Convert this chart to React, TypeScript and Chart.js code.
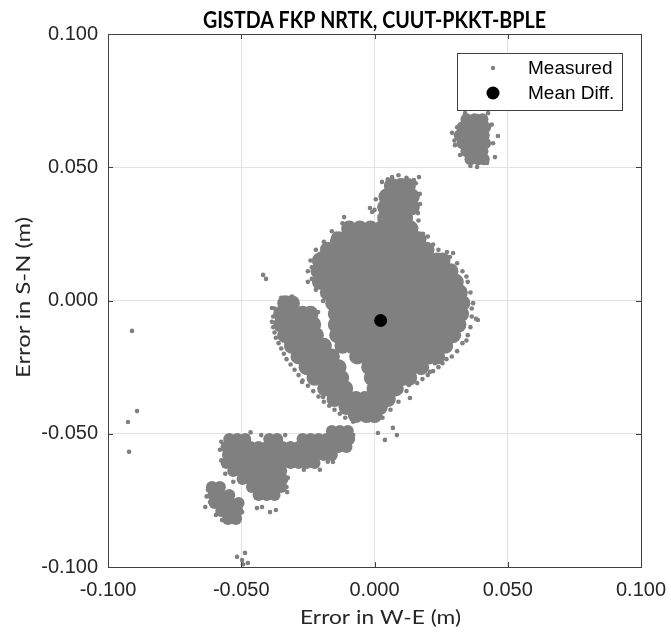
import { useEffect, useRef } from "react";
import { Chart, registerables } from "chart.js";

Chart.register(...registerables);

// ---- text ----
const TITLE = "GISTDA FKP NRTK, CUUT-PKKT-BPLE";
const X_TITLE = "Error in W-E (m)";
const Y_TITLE = "Error in S-N (m)";
const LEGEND_MEASURED = "Measured";
const LEGEND_MEAN = "Mean Diff.";

// ---- axes ----
const AXIS_MIN = -0.1;
const AXIS_MAX = 0.1;
const tickValues = [-0.1, -0.05, 0, 0.05, 0.1];
const tickLabels = ["-0.100", "-0.050", "0.000", "0.050", "0.100"];

// ---- data (metres) ----
// Saturated part of the main cloud: rows of [northing, eastings[]]
const mainCloudRows: [number, number[]][] = [
  [0.043, [0.0065, 0.01, 0.0125]],
  [0.039, [0.0045, 0.0085, 0.0125, 0.014]],
  [0.035, [0.004, 0.008, 0.012, 0.014]],
  [0.031, [0.004, 0.008, 0.0115]],
  [0.027, [-0.0095, -0.0055, -0.0015, 0.0025, 0.0065, 0.0105, 0.0135]],
  [0.023, [-0.0135, -0.0095, -0.0055, -0.0015, 0.0025, 0.0065, 0.0105, 0.0145, 0.0165]],
  [0.019, [-0.0175, -0.0135, -0.0095, -0.0055, -0.0015, 0.0025, 0.0065, 0.0105, 0.0145, 0.0185, 0.0195]],
  [0.015, [-0.0205, -0.0165, -0.0125, -0.0085, -0.0045, -0.0005, 0.0035, 0.0075, 0.0115, 0.0155, 0.0195, 0.0235, 0.0255]],
  [0.011, [-0.021, -0.017, -0.013, -0.009, -0.005, -0.001, 0.003, 0.007, 0.011, 0.015, 0.019, 0.023, 0.027, 0.0285]],
  [0.007, [-0.0205, -0.0165, -0.0125, -0.0085, -0.0045, -0.0005, 0.0035, 0.0075, 0.0115, 0.0155, 0.0195, 0.0235, 0.0275, 0.0305]],
  [0.003, [-0.0175, -0.0135, -0.0095, -0.0055, -0.0015, 0.0025, 0.0065, 0.0105, 0.0145, 0.0185, 0.0225, 0.0265, 0.0305, 0.032]],
  [-0.001, [-0.0155, -0.0115, -0.0075, -0.0035, 0.0005, 0.0045, 0.0085, 0.0125, 0.0165, 0.0205, 0.0245, 0.0285, 0.033]],
  [-0.005, [-0.0145, -0.0105, -0.0065, -0.0025, 0.0015, 0.0055, 0.0095, 0.0135, 0.0175, 0.0215, 0.0255, 0.0295, 0.0325]],
  [-0.009, [-0.0145, -0.0105, -0.0065, -0.0025, 0.0015, 0.0055, 0.0095, 0.0135, 0.0175, 0.0215, 0.0255, 0.0295, 0.0315]],
  [-0.013, [-0.014, -0.0105, -0.0065, -0.0025, 0.0015, 0.0055, 0.0095, 0.0135, 0.0175, 0.0215, 0.0255, 0.0295]],
  [-0.017, [-0.012, -0.0085, -0.0045, -0.0005, 0.0035, 0.0075, 0.0115, 0.0155, 0.0195, 0.0235, 0.0265]],
  [-0.021, [-0.0065, -0.0035, 0.0005, 0.0045, 0.0085, 0.0125, 0.0165, 0.0205, 0.0235]],
  [-0.025, [-0.002, 0.002, 0.006, 0.01, 0.014, 0.0175]],
  [-0.029, [-0.001, 0.003, 0.007, 0.011, 0.013]],
  [-0.033, [0.0, 0.004, 0.008]],
  [-0.037, [-0.001, 0.003, 0.005]],
  [-0.04, [0.0, 0.002]],
];

// Saturated part of the western lobe
const westLobeRows: [number, number[]][] = [
  [-0.001, [-0.0335, -0.031]],
  [-0.005, [-0.035, -0.031, -0.027, -0.024]],
  [-0.009, [-0.035, -0.031, -0.027, -0.023]],
  [-0.013, [-0.0335, -0.0295, -0.0255, -0.022]],
  [-0.017, [-0.031, -0.027, -0.023, -0.019]],
  [-0.021, [-0.0285, -0.0245, -0.0205, -0.016]],
  [-0.025, [-0.0255, -0.0215, -0.0175, -0.0135]],
  [-0.029, [-0.0225, -0.0185, -0.0145, -0.0125]],
  [-0.033, [-0.0185, -0.0145, -0.011]],
  [-0.037, [-0.015, -0.011, -0.007, -0.0035]],
  [-0.04, [-0.0105, -0.0065, -0.003]],
  [-0.043, [-0.007, -0.003, 0.0]],
];

// North-east cluster
const northEastRows: [number, number[]][] = [
  [0.068, [0.0345, 0.0375, 0.0405]],
  [0.065, [0.033, 0.036, 0.039, 0.0415]],
  [0.062, [0.032, 0.035, 0.038, 0.041]],
  [0.059, [0.033, 0.036, 0.039, 0.0415]],
  [0.056, [0.0345, 0.0375, 0.0405]],
  [0.053, [0.036, 0.039, 0.041]],
];

// South-west clusters
const southWestRows: [number, number[]][] = [
  [-0.049, [-0.016, -0.013, -0.01]],
  [-0.052, [-0.0545, -0.0515, -0.0485, -0.0395, -0.0365, -0.027, -0.024, -0.021, -0.018, -0.015, -0.012, -0.0095]],
  [-0.055, [-0.0555, -0.0525, -0.0495, -0.0465, -0.0435, -0.0405, -0.0375, -0.0345, -0.0315, -0.0285, -0.0255, -0.0225, -0.0195, -0.0165, -0.0135, -0.0105]],
  [-0.058, [-0.055, -0.052, -0.049, -0.046, -0.043, -0.04, -0.037, -0.034, -0.031, -0.028, -0.025, -0.022, -0.019, -0.016]],
  [-0.061, [-0.0555, -0.0525, -0.0495, -0.0465, -0.0435, -0.0405, -0.0375, -0.0345, -0.0315, -0.0285, -0.0255, -0.0225]],
  [-0.064, [-0.053, -0.05, -0.047, -0.044, -0.041, -0.038, -0.035]],
  [-0.067, [-0.0495, -0.0465, -0.0435, -0.0405, -0.0375, -0.0345]],
  [-0.07, [-0.061, -0.058, -0.046, -0.043, -0.04, -0.037, -0.035]],
  [-0.073, [-0.0605, -0.0575, -0.0545, -0.0435, -0.0405, -0.0375]],
  [-0.076, [-0.06, -0.057, -0.054, -0.051]],
  [-0.079, [-0.0575, -0.0545, -0.0515]],
  [-0.082, [-0.055, -0.052]],
];

// Individual fixes around the main cloud
const mainCloudFixes: [number, number][] = [
  [-0.0418, 0.0096], [-0.0407, 0.0081], [-0.0114, 0.0313], [-0.0017, 0.0347], [-0.0009, 0.0332],
  [0.0028, 0.0445], [0.0066, 0.0463], [0.0167, 0.0463], [0.0148, 0.0452], [0.0171, 0.0362],
  [0.0163, 0.0328], [0.0182, 0.025], [0.0272, 0.0182], [0.0295, 0.0178], [0.0283, 0.0163],
  [-0.0235, 0.0081], [-0.0159, 0.0223], [-0.0133, 0.0235], [-0.0385, -0.0028], [-0.0291, -0.0009],
  [-0.0193, -0.0002], [-0.0212, -0.0043], [0.0381, -0.0069], [0.0388, -0.0073], [-0.0272, -0.0306],
  [-0.0193, -0.0362], [0.0133, -0.0366], [0.0129, -0.0317], [0.0069, -0.0478], [0.0084, -0.0505],
  [0.0013, -0.0497], [0.0039, -0.0523], [-0.0009, -0.0448], [0.0238, -0.0205], [0.0208, -0.0268],
  [0.0227, -0.0235],
  [0.005, 0.0455], [0.009, 0.047], [0.012, 0.046], [0.0155, 0.044], [0.017, 0.04], [0.0005, 0.038],
  [0.0, 0.034], [0.0165, 0.03], [0.02, 0.024], [0.022, 0.021], [0.024, 0.019], [0.026, 0.017],
  [0.031, 0.014], [0.033, 0.011], [0.035, 0.007], [0.036, 0.003], [0.037, -0.001], [0.0365, -0.006],
  [0.036, -0.01], [0.035, -0.013], [0.033, -0.016], [0.031, -0.019], [0.027, -0.022], [0.024, -0.025],
  [0.02, -0.028], [0.016, -0.031], [0.012, -0.034], [0.009, -0.038], [0.006, -0.041], [0.003, -0.044],
  [-0.012, 0.029], [-0.016, 0.026], [-0.019, 0.022], [-0.022, 0.019], [-0.024, 0.015], [-0.025, 0.011],
  [-0.025, 0.007], [-0.022, 0.004], [-0.0235, 0.0125], [-0.0205, 0.0175], [-0.0145, 0.025],
  [-0.038, -0.006], [-0.038, -0.01], [-0.037, -0.014], [-0.035, -0.018], [-0.033, -0.022], [-0.03, -0.026],
  [-0.027, -0.03], [-0.023, -0.034], [-0.019, -0.038], [-0.015, -0.041], [-0.011, -0.044], [-0.035, 0.001],
  [-0.031, 0.0015], [-0.0375, -0.003], [-0.0385, -0.008], [-0.0375, -0.012], [-0.036, -0.016],
  [-0.034, -0.020], [-0.0315, -0.024], [-0.0285, -0.028], [-0.025, -0.032], [-0.021, -0.036],
  [-0.017, -0.0395], [-0.013, -0.0425], [-0.008, -0.0455], [0.0345, 0.009], [0.0365, -0.003],
  [0.0345, -0.015], [0.029, -0.021], [0.0255, -0.0235], [0.022, -0.0265], [0.018, -0.0295],
];

const northEastFixes: [number, number][] = [
  [0.034, 0.0703], [0.0388, 0.0692], [0.0426, 0.0703], [0.0291, 0.0629], [0.0302, 0.0583],
  [0.0463, 0.0617], [0.0452, 0.0538], [0.0385, 0.0501], [0.0422, 0.0516], [0.0321, 0.0546],
  [0.03, 0.06], [0.044, 0.066], [0.0445, 0.059], [0.036, 0.0505], [0.031, 0.065],
];

const southWestFixes: [number, number][] = [
  [-0.0572, -0.0824], [-0.0542, -0.0831], [-0.0505, -0.0816], [-0.0497, -0.0794], [-0.0625, -0.0711],
  [-0.0617, -0.0756], [-0.063, -0.0735], [-0.0441, -0.0779], [-0.0422, -0.0775], [-0.0392, -0.0794],
  [-0.037, -0.0786], [-0.0328, -0.0719], [-0.0317, -0.0568], [-0.033, -0.07], [-0.0156, -0.0606],
  [-0.008, -0.0505], [-0.0092, -0.0512], [-0.058, -0.056], [-0.0575, -0.06], [-0.056, -0.065],
  [-0.053, -0.068], [-0.0575, -0.053], [-0.0175, -0.0605], [-0.0205, -0.0635], [-0.0265, -0.0635],
  [-0.0325, -0.0665], [-0.0315, -0.0605], [-0.0335, -0.0505], [-0.0425, -0.0505], [-0.0465, -0.0495],
  [-0.0635, -0.0775], [-0.0595, -0.0805],
  [-0.0516, -0.0962], [-0.0486, -0.0947], [-0.0497, -0.0974], [-0.0475, -0.0985], [-0.0493, -0.099],
];

const farOutliers: [number, number][] = [
  [-0.091, -0.0114], [-0.0891, -0.0415], [-0.0925, -0.0456], [-0.0921, -0.0568],
];

const meanDiff: [number, number] = [0.0023, -0.0075];

// ---- styling ----
const GRAY = "#808080";
const AXIS_COLOR = "#404040";
const TEXT_COLOR = "#262626";
const TICK_FONT = "'Liberation Sans', Arial, sans-serif";
const LABEL_FONT = "Lato, 'Open Sans', sans-serif";

const rowsToPoints = (rows: [number, number[]][]) =>
  rows.flatMap(([y, xs]) => xs.map((x) => ({ x, y })));
const pairsToPoints = (pairs: [number, number][]) => pairs.map(([x, y]) => ({ x, y }));

function fitText(ctx: CanvasRenderingContext2D, text: string, cx: number, cy: number, width: number, rotate = 0) {
  const w = ctx.measureText(text).width;
  ctx.save();
  ctx.translate(cx, cy);
  if (rotate) ctx.rotate(rotate);
  ctx.scale(width / w, 1);
  ctx.textAlign = "center";
  ctx.fillText(text, 0, 0);
  ctx.restore();
}

const framePlugin = {
  id: "matlabFrame",
  afterDatasetsDraw(chart: any) {
    const { ctx, chartArea, scales } = chart;
    const { left, top, right, bottom } = chartArea;
    ctx.save();
    ctx.strokeStyle = AXIS_COLOR;
    ctx.lineWidth = 1;
    ctx.beginPath();
    for (const v of tickValues) {
      const px = Math.round(scales.x.getPixelForValue(v)) + 0.5;
      ctx.moveTo(px, bottom);
      ctx.lineTo(px, bottom - 5);
      ctx.moveTo(px, top);
      ctx.lineTo(px, top + 5);
      const py = Math.round(scales.y.getPixelForValue(v)) + 0.5;
      ctx.moveTo(left, py);
      ctx.lineTo(left + 5, py);
      ctx.moveTo(right, py);
      ctx.lineTo(right - 5, py);
    }
    ctx.stroke();
    ctx.strokeRect(Math.round(left) + 0.5, Math.round(top) + 0.5, Math.round(right - left), Math.round(bottom - top));
    ctx.restore();
  },
  afterDraw(chart: any) {
    const { ctx, chartArea } = chart;
    const { left, top, right, bottom } = chartArea;
    const cx = (left + right) / 2;
    const cy = (top + bottom) / 2;
    ctx.save();
    // title
    ctx.fillStyle = "#000";
    ctx.textBaseline = "alphabetic";
    ctx.font = `bold 22px ${LABEL_FONT}`;
    fitText(ctx, TITLE, cx, top - 6, 343);
    // axis titles
    ctx.fillStyle = TEXT_COLOR;
    ctx.font = `20px ${LABEL_FONT}`;
    fitText(ctx, X_TITLE, cx + 6, bottom + 57, 161);
    fitText(ctx, Y_TITLE, left - 78, cy - 3, 161, -Math.PI / 2);

    // legend
    const bw = 165;
    const bh = 57;
    const bx = right - 19 - bw;
    const by = top + 19;
    ctx.fillStyle = "#fff";
    ctx.fillRect(bx, by, bw, bh);
    ctx.strokeStyle = AXIS_COLOR;
    ctx.lineWidth = 1;
    ctx.strokeRect(Math.round(bx) + 0.5, Math.round(by) + 0.5, bw, bh);
    const entries = [
      { label: LEGEND_MEASURED, color: GRAY, r: 2.2, y: by + 15 },
      { label: LEGEND_MEAN, color: "#000", r: 6.5, y: by + 40 },
    ];
    ctx.font = `19px ${TICK_FONT}`;
    ctx.textAlign = "left";
    ctx.textBaseline = "middle";
    for (const e of entries) {
      ctx.fillStyle = e.color;
      ctx.beginPath();
      ctx.arc(bx + 36, e.y, e.r, 0, Math.PI * 2);
      ctx.fill();
      ctx.fillStyle = "#000";
      ctx.fillText(e.label, bx + 71, e.y + 1);
    }
    ctx.restore();
  },
};

export default function App() {
  const canvasRef = useRef<HTMLCanvasElement | null>(null);

  useEffect(() => {
    const canvas = canvasRef.current;
    if (!canvas) return;

    const axis = (isX: boolean) => ({
      type: "linear" as const,
      min: AXIS_MIN,
      max: AXIS_MAX,
      afterBuildTicks: (scale: any) => {
        scale.ticks = tickValues.map((value) => ({ value }));
      },
      afterFit: (scale: any) => {
        if (isX) {
          scale.height = 66;
          scale.paddingLeft = 0;
          scale.paddingRight = 0;
        } else {
          scale.width = 108;
          scale.paddingTop = 0;
          scale.paddingBottom = 0;
        }
      },
      ticks: {
        autoSkip: false,
        maxRotation: 0,
        padding: isX ? 11 : 10,
        color: TEXT_COLOR,
        font: { family: TICK_FONT, size: 20 },
        callback: (_v: any, i: number) => tickLabels[i],
      },
      grid: { color: "#e2e2e2", lineWidth: 1, drawTicks: false },
      border: { display: false },
    });

    const chart = new Chart(canvas, {
      type: "scatter",
      data: {
        datasets: [
          {
            label: LEGEND_MEAN,
            data: pairsToPoints([meanDiff]),
            backgroundColor: "#000",
            borderWidth: 0,
            pointRadius: 6.5,
            order: 0,
          },
          {
            label: LEGEND_MEASURED,
            data: [
              ...pairsToPoints(mainCloudFixes),
              ...pairsToPoints(northEastFixes),
              ...pairsToPoints(southWestFixes),
              ...pairsToPoints(farOutliers),
            ],
            backgroundColor: GRAY,
            borderWidth: 0,
            pointRadius: 2.3,
            order: 1,
          },
          {
            label: "Measured (clusters)",
            data: [...rowsToPoints(northEastRows), ...rowsToPoints(southWestRows)],
            backgroundColor: GRAY,
            borderWidth: 0,
            pointRadius: 6,
            order: 2,
          },
          {
            label: "Measured (core)",
            data: [...rowsToPoints(mainCloudRows), ...rowsToPoints(westLobeRows)],
            backgroundColor: GRAY,
            borderWidth: 0,
            pointRadius: 8,
            order: 3,
          },
        ],
      },
      options: {
        animation: false,
        responsive: false,
        maintainAspectRatio: false,
        devicePixelRatio: 1,
        layout: { padding: { top: 34, right: 30, left: 0, bottom: 0 } },
        plugins: {
          legend: { display: false },
          title: { display: false },
          tooltip: { enabled: false },
        },
        events: [],
        scales: { x: axis(true), y: axis(false) },
      },
      plugins: [framePlugin],
    });

    return () => chart.destroy();
  }, []);

  return (
    <div style={{ position: "fixed", left: 0, top: 0, width: 671, height: 633, background: "#fff" }}>
      <canvas ref={canvasRef} width={671} height={633} style={{ display: "block" }} />
    </div>
  );
}
